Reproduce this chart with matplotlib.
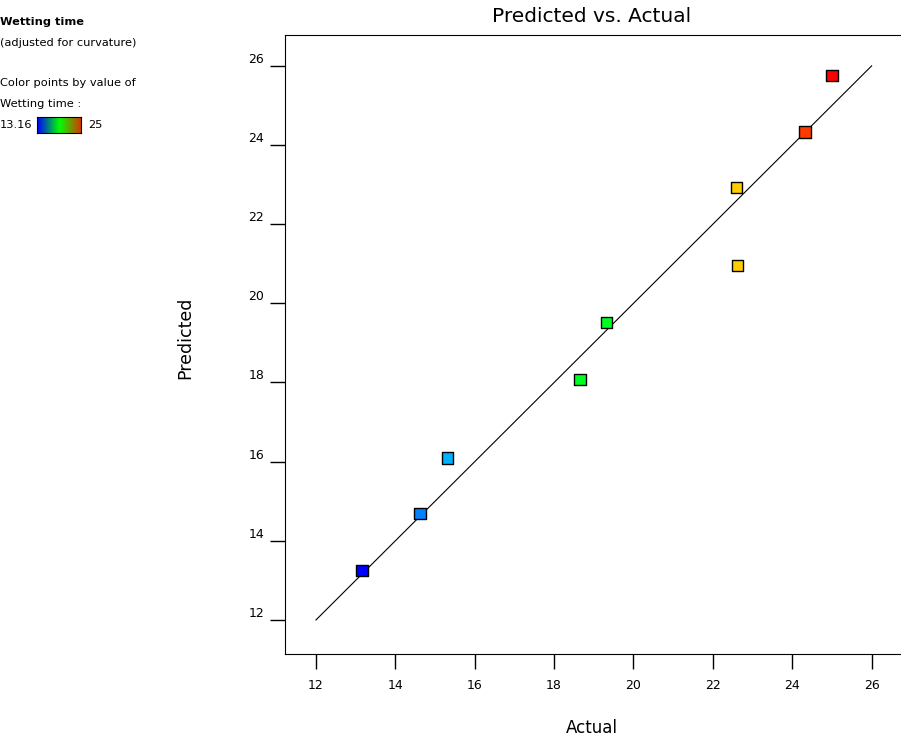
import numpy as np
import matplotlib
matplotlib.use("Agg")
import matplotlib.pyplot as plt
from matplotlib.colors import LinearSegmentedColormap, Normalize

# data
actual = [13.16, 14.62, 15.32, 18.65, 19.33, 22.60, 22.63, 24.32, 25.00]
predicted = [13.24, 14.68, 16.09, 18.07, 19.51, 22.92, 20.95, 24.33, 25.75]
line_ends = [12, 26]
x_ticks = [12, 14, 16, 18, 20, 22, 24, 26]
y_ticks = [12, 14, 16, 18, 20, 22, 24, 26]
color_min, color_max = 13.16, 25

point_cmap = LinearSegmentedColormap.from_list("pts", [
    (0.0, "#0000ff"), (0.12, "#0080ff"), (0.2, "#00c0ff"),
    (0.45, "#00ff20"), (0.55, "#00ff20"), (0.8, "#ffcc00"),
    (0.94, "#ff4000"), (1.0, "#ff0000")])
bar_cmap = LinearSegmentedColormap.from_list("bar", ["#0000ff", "#00ff00", "#e03000"])

plt.rcParams['font.family'] = ['DejaVu Sans']

fig = plt.figure(figsize=(9.01, 7.39), dpi=100)
ax = fig.add_axes([285/901, 1 - 654/739, (901 - 285)/901, (654 - 35)/739])

ax.plot(line_ends, line_ends, color="black", lw=0.8)
norm = Normalize(color_min, color_max)
ax.scatter(actual, predicted, c=actual, cmap=point_cmap, norm=norm, marker="s",
           s=65, edgecolors="black", linewidths=1, zorder=3)

ax.set_xlim(11.22, 26.74)
ax.set_ylim(11.14, 26.78)
ax.set_xticks(x_ticks)
ax.set_yticks(y_ticks)
ax.spines['right'].set_visible(False)
ax.tick_params(axis='both', direction='out', length=11, width=1, labelsize=9)
ax.tick_params(axis='x', pad=7)
ax.tick_params(axis='y', pad=4)
for lbl in ax.get_yticklabels():
    lbl.set_verticalalignment('bottom')

fig.text(592/901, 1 - 17/739, "Predicted vs. Actual", ha="center", va="center", fontsize=14.5)
fig.text(592/901, 1 - 728/739, "Actual", ha="center", va="center", fontsize=12)
fig.text(185/901, 1 - 338/739, "Predicted", ha="center", va="center", fontsize=12.5, rotation=90)

# color legend at top left
fs = 8.2
fig.text(0.0, 1 - 22/739, "Wetting time", ha="left", va="center", fontsize=fs, fontweight="bold")
fig.text(0.0, 1 - 43/739, "(adjusted for curvature)", ha="left", va="center", fontsize=fs)
fig.text(0.0, 1 - 83/739, "Color points by value of", ha="left", va="center", fontsize=fs)
fig.text(0.0, 1 - 104/739, "Wetting time :", ha="left", va="center", fontsize=fs)
fig.text(0.0, 1 - 125/739, f"{color_min:.2f}", ha="left", va="center", fontsize=fs)
fig.text(88/901, 1 - 125/739, f"{color_max:g}", ha="left", va="center", fontsize=fs)
cax = fig.add_axes([37/901, 1 - 133/739, 44/901, 16/739])
cax.imshow(np.linspace(0, 1, 100).reshape(1, -1), aspect="auto", cmap=bar_cmap)
cax.set_xticks([])
cax.set_yticks([])

fig.savefig("out.png", dpi=100)
